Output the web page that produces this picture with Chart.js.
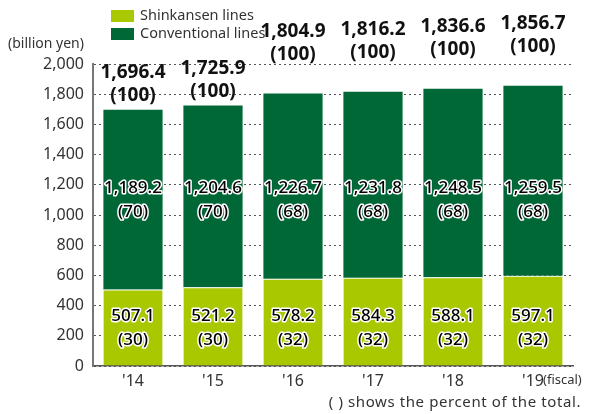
<!DOCTYPE html>
<html>
<head>
<meta charset="utf-8">
<script src="https://cdn.jsdelivr.net/npm/chart.js@4"></script>
<style>
  html, body { margin: 0; padding: 0; background: #fff; }
  #wrap { width: 598px; height: 414px; position: relative; }
</style>
</head>
<body>
<div id="wrap"><canvas id="railChart" width="598" height="414"></canvas></div>
<script>
const years = ["'14", "'15", "'16", "'17", "'18", "'19"];
const shinkansen = [507.1, 521.2, 578.2, 584.3, 588.1, 597.1];
const conventional = [1189.2, 1204.6, 1226.7, 1231.8, 1248.5, 1259.5];
const totals = [1696.4, 1725.9, 1804.9, 1816.2, 1836.6, 1856.7];
const shinkansenPct = [30, 30, 32, 32, 32, 32];
const conventionalPct = [70, 70, 68, 68, 68, 68];
const yTicks = [0, 200, 400, 600, 800, 1000, 1200, 1400, 1600, 1800, 2000];

const FONT = "'Noto Sans', 'DejaVu Sans', sans-serif";
const LIGHT = "#a9c800";
const DARK = "#006837";

const fmt = v => v.toLocaleString("en-US", { minimumFractionDigits: 1, maximumFractionDigits: 1 });

// labels, legend and notes drawn by hand
const labelsPlugin = {
    id: "labels",
    afterDatasetsDraw(chart) {
        const ctx = chart.ctx;
        const y = chart.scales.y;
        const x = chart.scales.x;
        ctx.save();
        ctx.textAlign = "center";
        ctx.textBaseline = "middle";

        function outlined(text, cx, cy) {
            ctx.lineWidth = 3;
            ctx.lineJoin = "round";
            ctx.strokeStyle = "#ffffff";
            ctx.strokeText(text, cx, cy);
            ctx.fillStyle = "#000000";
            ctx.fillText(text, cx, cy);
        }

        ctx.font = "500 17px " + FONT;
        years.forEach((yr, i) => {
            const cx = x.getPixelForValue(i);
            // inside labels sit at fixed heights
            const cy1 = y.getPixelForValue(1100);
            outlined(fmt(conventional[i]), cx, cy1 - 12);
            outlined("(" + conventionalPct[i] + ")", cx, cy1 + 12);
            const cy2 = y.getPixelForValue(250);
            outlined(fmt(shinkansen[i]), cx, cy2 - 12);
            outlined("(" + shinkansenPct[i] + ")", cx, cy2 + 12);
        });

        ctx.font = "bold 19px " + FONT;
        ctx.fillStyle = "#111";
        years.forEach((yr, i) => {
            const cx = x.getPixelForValue(i);
            const top = y.getPixelForValue(totals[i]);
            const gap = i < 2 ? 14 : 39;
            ctx.fillText(fmt(totals[i]), cx, top - gap - 23);
            ctx.fillText("(100)", cx, top - gap);
        });

        // legend
        ctx.textAlign = "left";
        ctx.font = "14.5px " + FONT;
        ctx.fillStyle = LIGHT;
        ctx.fillRect(111, 10, 23, 12);
        ctx.fillStyle = DARK;
        ctx.fillRect(111, 28, 23, 12);
        ctx.fillStyle = "#333";
        ctx.fillText("Shinkansen lines", 140, 16);
        ctx.fillText("Conventional lines", 140, 34);

        // unit and notes
        ctx.font = "14px " + FONT;
        ctx.fillText("(billion yen)", 8, 44);
        ctx.font = "13px " + FONT;
        ctx.fillText("(fiscal)", 543, 380);
        ctx.textAlign = "right";
        ctx.font = "15px " + FONT;
        ctx.letterSpacing = "0.6px";
        ctx.fillText("( ) shows the percent of the total.", 581, 403);
        ctx.restore();
    }
};

const ctx = document.getElementById("railChart").getContext("2d");
new Chart(ctx, {
    type: "bar",
    data: {
        labels: years,
        datasets: [
            {
                label: "Shinkansen lines",
                data: shinkansen,
                backgroundColor: LIGHT,
                borderColor: "#fff",
                borderWidth: { top: 1, left: 0, right: 0, bottom: 0 },
                borderSkipped: false,
                barPercentage: 0.74,
                categoryPercentage: 1
            },
            {
                label: "Conventional lines",
                data: conventional,
                backgroundColor: DARK,
                borderWidth: 0,
                barPercentage: 0.74,
                categoryPercentage: 1
            }
        ]
    },
    options: {
        responsive: false,
        animation: false,
        layout: { padding: { top: 64, right: 25, left: 0, bottom: 0 } },
        plugins: {
            legend: { display: false },
            tooltip: { enabled: false }
        },
        scales: {
            x: {
                stacked: true,
                grid: { display: false, drawTicks: false },
                border: { display: true, color: "#555", width: 1.5 },
                ticks: { color: "#333", font: { family: FONT, size: 16 }, padding: 6 },
                afterFit(scale) { scale.height = 48; }
            },
            y: {
                stacked: true,
                min: 0,
                max: 2000,
                afterBuildTicks(scale) { scale.ticks = yTicks.map(v => ({ value: v })); },
                grid: { color: "#555", lineWidth: 1, drawTicks: false },
                border: { display: true, color: "#777", width: 2, dash: [2, 3] },
                ticks: {
                    color: "#333",
                    padding: 9,
                    font: { family: FONT, size: 16 },
                    callback: v => v.toLocaleString("en-US")
                },
                afterFit(scale) { scale.width = 93; }
            }
        }
    },
    plugins: [labelsPlugin]
});
</script>
</body>
</html>
